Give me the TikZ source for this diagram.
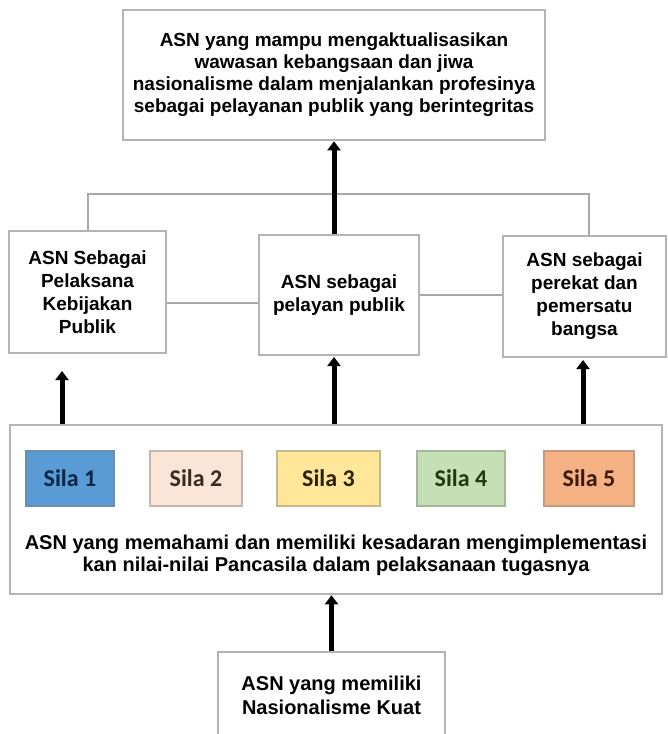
\documentclass[tikz,border=0pt]{standalone}
\usepackage{fontspec}
\setmainfont{Liberation Sans}
\newfontfamily\silafont{Carlito}
\usetikzlibrary{arrows.meta}

\definecolor{boxgray}{HTML}{B4B4B4}
\definecolor{linegray}{HTML}{A8A8A8}
\definecolor{silaA}{HTML}{5B9BD5}
\definecolor{silaB}{HTML}{FBE5D6}
\definecolor{silaC}{HTML}{FFE699}
\definecolor{silaD}{HTML}{C5E0B4}
\definecolor{silaE}{HTML}{F4B183}
\definecolor{inkA}{HTML}{0B2545}
\definecolor{inkB}{HTML}{3B2A20}
\definecolor{inkC}{HTML}{2A2200}
\definecolor{inkD}{HTML}{1E3A12}
\definecolor{inkE}{HTML}{3A1A05}

\tikzset{
  box/.style={draw=boxgray, line width=2.5pt, fill=white, align=center, inner sep=2pt,
    font=\bfseries\fontsize{19}{22}\selectfont},
  sidebox/.style={box, font=\bfseries\fontsize{19}{23}\selectfont},
  silabox/.style={line width=2pt, minimum height=55pt, inner sep=1pt,
    font=\silafont\bfseries\fontsize{24}{26}\selectfont},
  uparrow/.style={line width=5pt, -{Triangle[width=13pt,length=9pt]}},
  link/.style={draw=linegray, line width=2pt}
}

\begin{document}
\begin{tikzpicture}[x=1pt,y=-1pt]
\useasboundingbox (0,0) rectangle (668,734);
\clip (0,0) rectangle (668,734);

\node[box, minimum width=422pt, minimum height=130pt] (goal) at (334,75)
  {ASN yang mampu mengaktualisasikan\\wawasan kebangsaan dan jiwa\\nasionalisme dalam menjalankan profesinya\\sebagai pelayanan publik yang berintegritas};

\node[sidebox, minimum width=157pt, minimum height=122pt] (kebijakan) at (87.5,292)
  {ASN Sebagai\\Pelaksana\\Kebijakan\\Publik};
\node[sidebox, minimum width=160pt, minimum height=120pt] (pelayan) at (339,295)
  {ASN sebagai\\pelayan publik};
\node[sidebox, minimum width=163pt, minimum height=121pt] (pemersatu) at (584.5,296.5)
  {ASN sebagai\\perekat dan\\pemersatu\\bangsa};

\node[box, minimum width=652pt, minimum height=169pt] (pancasila) at (336,509.5) {};
\foreach \x/\w/\c/\t [count=\i] in {70/88/silaA/inkA, 196/92/silaB/inkB, 328.5/103/silaC/inkC,
    461/88/silaD/inkD, 589/90/silaE/inkE}
  \node[silabox, minimum width=\w pt, fill=\c, draw=\c!55!gray, text=\t] (sila\i) at (\x,478.5) {Sila \i};
\node[align=center, inner sep=0pt, font=\bfseries\fontsize{20}{22}\selectfont] (paham) at (336,555)
  {ASN yang memahami dan memiliki kesadaran mengimplementasi\\kan nilai-nilai Pancasila dalam pelaksanaan tugasnya};

\node[box, minimum width=227pt, minimum height=86pt, font=\bfseries\fontsize{20}{24}\selectfont] (kuat) at (331.5,695)
  {ASN yang memiliki\\Nasionalisme Kuat};

\coordinate (bus) at (334,194);
\coordinate (tipL) at (62,371);
\coordinate (tipM) at (334,357);
\coordinate (tipR) at (583,360);

\draw[link] (kebijakan.north) |- (bus) -| ([xshift=4.5pt]pemersatu.north);
\draw[link] ([yshift=-11pt]kebijakan.east) -- ([yshift=-11pt]kebijakan.east -| pelayan.west);
\draw[link] (pelayan.east) -- (pelayan.east -| pemersatu.west);

\draw[uparrow] (pelayan.north -| goal.south) -- (goal.south);
\draw[uparrow] (pancasila.north -| tipL) -- (tipL);
\draw[uparrow] (pancasila.north -| tipM) -- (tipM);
\draw[uparrow] (pancasila.north -| tipR) -- (tipR);
\draw[uparrow] (kuat.north) -- (kuat.north |- pancasila.south);

\end{tikzpicture}
\end{document}
